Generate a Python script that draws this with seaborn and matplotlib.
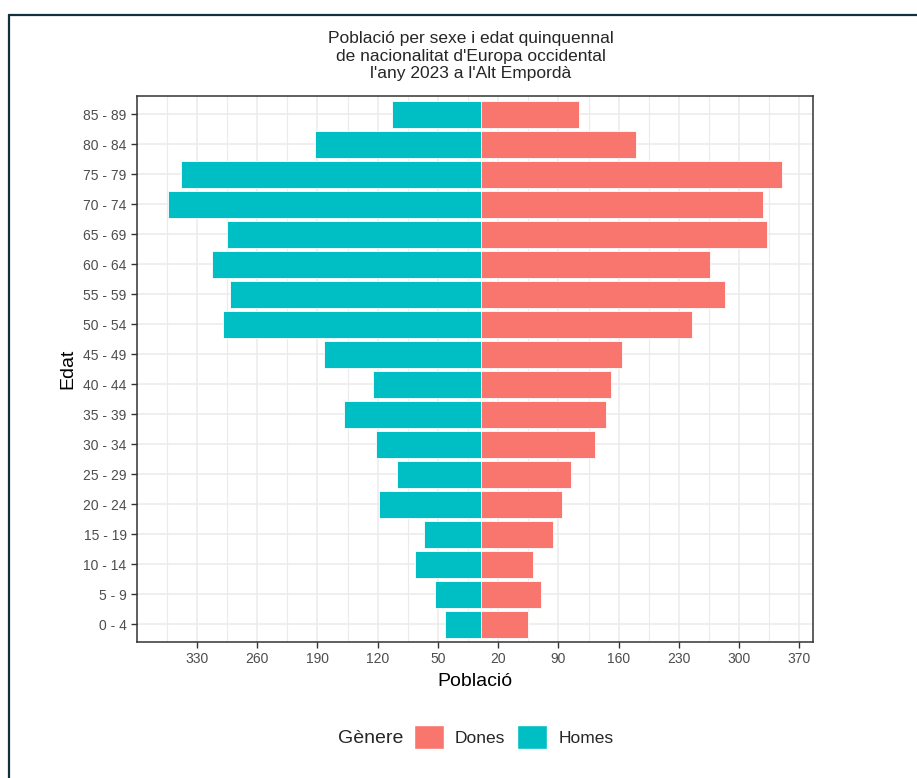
import matplotlib
matplotlib.use("Agg")
import matplotlib.pyplot as plt
from matplotlib.lines import Line2D
from matplotlib.patches import Patch
import numpy as np
import pandas as pd
import seaborn as sns

# age groups, top to bottom
ages = ["85 - 89", "80 - 84", "75 - 79", "70 - 74", "65 - 69", "60 - 64",
        "55 - 59", "50 - 54", "45 - 49", "40 - 44", "35 - 39", "30 - 34",
        "25 - 29", "20 - 24", "15 - 19", "10 - 14", "5 - 9", "0 - 4"]
dones = [114, 180, 350, 328, 332, 266, 283, 245, 164, 151, 145, 132,
         105, 94, 84, 60, 70, 54]
homes = [104, 193, 348, 364, 295, 313, 292, 300, 182, 126, 159, 122,
         98, 119, 66, 77, 53, 42]
x_ticks = [-330, -260, -190, -120, -50, 20, 90, 160, 230, 300, 370]
x_labels = ["330", "260", "190", "120", "50", "20", "90", "160", "230", "300", "370"]
genders = ["Dones", "Homes"]
colors = {"Dones": "#F8766D", "Homes": "#00BFC4"}

df = pd.concat([
    pd.DataFrame({"Edat": ages, "Població": dones, "Gènere": "Dones"}),
    pd.DataFrame({"Edat": ages, "Població": [-v for v in homes], "Gènere": "Homes"}),
])

sns.set_style("white")
plt.rcParams["font.family"] = ["Liberation Sans", "DejaVu Sans"]

W, H = 917, 778
fig = plt.figure(figsize=(W / 100, H / 100), dpi=100)
ax = fig.add_axes([137 / W, 1 - 642 / H, (813 - 137) / W, (642 - 96) / H])

sns.barplot(data=df, y="Edat", x="Població", hue="Gènere", order=ages,
            hue_order=genders, palette=colors, saturation=1, dodge=False,
            width=0.9, orient="h", edgecolor="white", linewidth=0.6,
            legend=False, ax=ax)

ax.set_xlim(-399.7, 385.7)
ax.set_ylim(len(ages) - 0.4, -0.6)
ax.set_xticks(x_ticks)
ax.set_xticklabels(x_labels)
minor = [x_ticks[0] - 35] + [t + 35 for t in x_ticks[:-1]]
ax.set_xticks(minor, minor=True)

ax.set_axisbelow(True)
ax.grid(which="major", axis="both", color="#EBEBEB", lw=1.1)
ax.grid(which="minor", axis="x", color="#EBEBEB", lw=0.8)
ax.tick_params(which="major", axis="both", length=4.5, width=1, color="#333333",
               labelsize=10, labelcolor="#4D4D4D", pad=3, direction="out",
               bottom=True, left=True)
ax.tick_params(which="minor", length=0)
for s in ax.spines.values():
    s.set_color("#333333")
    s.set_linewidth(1.1)

ax.set_xlabel("Població", fontsize=14, labelpad=5, color="black")
ax.set_ylabel("Edat", fontsize=14, labelpad=5, color="black")

fig.text(471 / W, 1 - 56 / H,
         "Població per sexe i edat quinquennal\nde nacionalitat d'Europa occidental\nl'any 2023 a l'Alt Empordà",
         ha="center", va="center", fontsize=12.5, linespacing=1.18)

handles = [Patch(facecolor=colors[g], edgecolor="white", label=g) for g in genders]
fig.legend(handles=handles, loc="center left", bbox_to_anchor=(414 / W, 1 - 737 / H),
           ncol=2, frameon=False, fontsize=12.5, handlelength=1.7, handleheight=1.7,
           handletextpad=0.65, columnspacing=0.7, borderaxespad=0, borderpad=0)
fig.text(403 / W, 1 - 736.5 / H, "Gènere", ha="right", va="center_baseline", fontsize=14)

# outer frame of the panel
fig.add_artist(Line2D([8.7 / W, 1], [1 - 15.3 / H] * 2, color="#12313F", lw=1.6,
                      transform=fig.transFigure))
fig.add_artist(Line2D([8.7 / W] * 2, [0, 1 - 15.3 / H], color="#12313F", lw=1.6,
                      transform=fig.transFigure))

fig.savefig("out.png", dpi=100)
